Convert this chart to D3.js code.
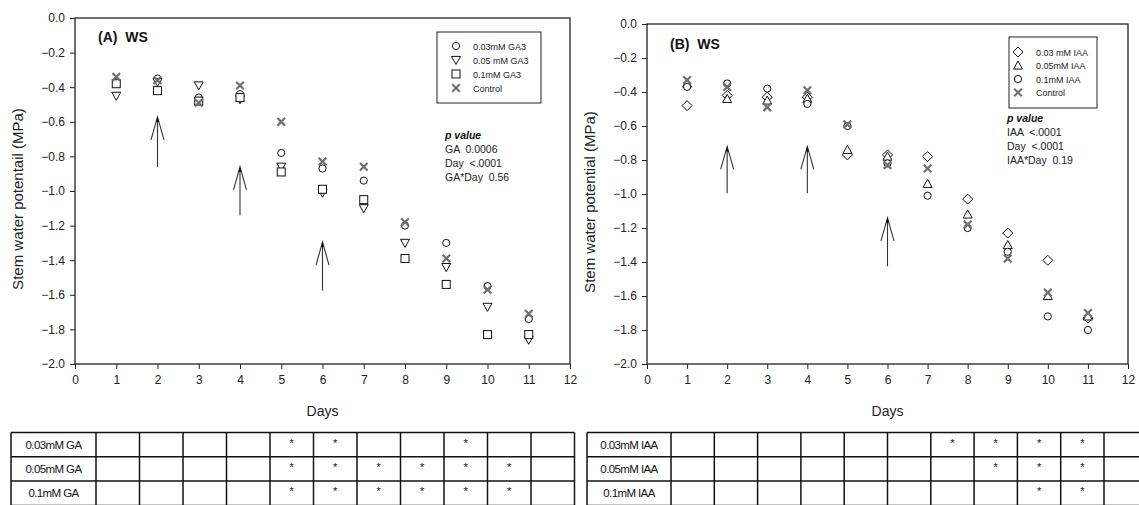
<!DOCTYPE html>
<html lang="en">
<head>
<meta charset="UTF-8">
<title>Stem water potential</title>
<script src="https://d3js.org/d3.v7.min.js"></script>
<style>
  body { margin: 0; padding: 0; background: #fff; font-family: "Liberation Sans", Arial, sans-serif; }
  svg { display: block; }
  .tick text { fill: #222; font-size: 12px; }
  .axis path, .axis line { stroke: #222; }
</style>
</head>
<body>
<svg id="chart" width="1139" height="505"></svg>
<script>
// ---- data ----
const days = [1, 2, 3, 4, 5, 6, 7, 8, 9, 10, 11];

// panel A (GA3)
const ga003 = [-0.37, -0.35, -0.46, -0.44, -0.78, -0.87, -0.94, -1.20, -1.30, -1.55, -1.74];
const ga005 = [-0.45, -0.37, -0.39, -0.47, -0.86, -1.01, -1.10, -1.30, -1.44, -1.67, -1.86];
const ga01  = [-0.38, -0.42, -0.48, -0.46, -0.89, -0.99, -1.05, -1.39, -1.54, -1.83, -1.83];
const gaCtrl = [-0.34, -0.36, -0.49, -0.39, -0.60, -0.83, -0.86, -1.18, -1.39, -1.57, -1.71];

// panel B (IAA)
const iaa003 = [-0.48, -0.42, -0.43, -0.43, -0.77, -0.77, -0.78, -1.03, -1.23, -1.39, -1.73];
const iaa005 = [-0.35, -0.44, -0.45, -0.44, -0.74, -0.78, -0.94, -1.12, -1.30, -1.60, -1.72];
const iaa01  = [-0.37, -0.35, -0.38, -0.47, -0.60, -0.82, -1.01, -1.20, -1.34, -1.72, -1.80];
const iaaCtrl = [-0.33, -0.37, -0.49, -0.39, -0.59, -0.83, -0.85, -1.18, -1.38, -1.58, -1.70];

const xTicks = [0, 1, 2, 3, 4, 5, 6, 7, 8, 9, 10, 11, 12];
const yTicks = [0, -0.2, -0.4, -0.6, -0.8, -1.0, -1.2, -1.4, -1.6, -1.8, -2.0];

const gaLegend = ["0.03mM GA3", "0.05 mM GA3", "0.1mM GA3", "Control"];
const iaaLegend = ["0.03 mM IAA", "0.05mM IAA", "0.1mM IAA", "Control"];
const gaPvalue = [["GA", "0.0006"], ["Day", "<.0001"], ["GA*Day", "0.56"]];
const iaaPvalue = [["IAA", "<.0001"], ["Day", "<.0001"], ["IAA*Day", "0.19"]];

// arrows: day, tip value, tail value
const gaArrows = [[2, -0.572, -0.86], [4, -0.86, -1.14], [6, -1.295, -1.575]];
const iaaArrows = [[2, -0.72, -0.995], [4, -0.72, -0.995], [6, -1.14, -1.425]];

// significance tables
const gaRows = ["0.03mM GA", "0.05mM GA", "0.1mM GA"];
const gaStars = [[5, 6, 9], [5, 6, 7, 8, 9, 10], [5, 6, 7, 8, 9, 10]];
const iaaRows = ["0.03mM IAA", "0.05mM IAA", "0.1mM IAA"];
const iaaStars = [[7, 8, 9, 10], [8, 9, 10], [9, 10]];

const svg = d3.select("#chart");

// ---- symbol painters ----
function circ(g, x, y) {
  g.append("circle").attr("cx", x).attr("cy", y).attr("r", 3.6)
    .attr("fill", "#fff").attr("stroke", "#111").attr("stroke-width", 1);
}
function triDown(g, x, y) {
  const s = 4.5;
  g.append("path").attr("d", `M${x - s},${y - s * 0.8}L${x + s},${y - s * 0.8}L${x},${y + s}Z`)
    .attr("fill", "#fff").attr("stroke", "#111").attr("stroke-width", 1);
}
function triUp(g, x, y) {
  const s = 4.5;
  g.append("path").attr("d", `M${x - s},${y + s * 0.8}L${x + s},${y + s * 0.8}L${x},${y - s}Z`)
    .attr("fill", "#fff").attr("stroke", "#111").attr("stroke-width", 1);
}
function square(g, x, y) {
  g.append("rect").attr("x", x - 4).attr("y", y - 4).attr("width", 8).attr("height", 8)
    .attr("fill", "#fff").attr("stroke", "#111").attr("stroke-width", 1);
}
function diamond(g, x, y) {
  const s = 5;
  g.append("path").attr("d", `M${x},${y - s}L${x + s},${y}L${x},${y + s}L${x - s},${y}Z`)
    .attr("fill", "#fff").attr("stroke", "#111").attr("stroke-width", 1);
}
function cross(g, x, y) {
  const s = 3.8;
  g.append("path").attr("d", `M${x - s},${y - s}L${x + s},${y + s}M${x - s},${y + s}L${x + s},${y - s}`)
    .attr("stroke", "#707070").attr("stroke-width", 2.2).attr("fill", "none");
}

// ---- panel ----
function panel(opt) {
  const x = d3.scaleLinear().domain([0, 12]).range(opt.xr);
  const y = d3.scaleLinear().domain([-2, 0]).range(opt.yr);
  const g = svg.append("g");

  // frame
  g.append("rect").attr("x", opt.xr[0]).attr("y", opt.yr[1])
    .attr("width", opt.xr[1] - opt.xr[0]).attr("height", opt.yr[0] - opt.yr[1])
    .attr("fill", "none").attr("stroke", "#222").attr("stroke-width", 1.3);

  g.append("g").attr("class", "axis")
    .attr("transform", `translate(0,${opt.yr[0]})`)
    .call(d3.axisBottom(x).tickValues(xTicks).tickSize(5).tickPadding(6).tickFormat(d3.format("d")))
    .call(s => s.select(".domain").remove());

  g.append("g").attr("class", "axis")
    .attr("transform", `translate(${opt.xr[0]},0)`)
    .call(d3.axisLeft(y).tickValues(yTicks).tickSize(5).tickPadding(5).tickFormat(d3.format(".1f")))
    .call(s => s.select(".domain").remove());

  // axis titles
  g.append("text").attr("x", (opt.xr[0] + opt.xr[1]) / 2).attr("y", 416)
    .attr("text-anchor", "middle").attr("font-size", 14).attr("fill", "#222").text("Days");
  g.append("text").attr("transform", `translate(${opt.xr[0] - 52},${(opt.yr[0] + opt.yr[1]) / 2 + 8}) rotate(-90)`)
    .attr("text-anchor", "middle").attr("font-size", 15).attr("fill", "#222").text(opt.ytitle);

  g.append("text").attr("x", opt.title[0]).attr("y", opt.title[1])
    .attr("font-size", 14).attr("font-weight", "bold").attr("fill", "#111")
    .attr("xml:space", "preserve").text(opt.titleText);

  // arrows
  opt.arrows.forEach(a => {
    const ax = x(a[0]), ty = y(a[1]), by = y(a[2]);
    g.append("path").attr("d", `M${ax},${by}L${ax},${ty}M${ax - 6.5},${ty + 23}L${ax},${ty}L${ax + 6.5},${ty + 23}`)
      .attr("stroke", "#333").attr("stroke-width", 1.1).attr("fill", "none");
    g.append("path").attr("d", `M${ax - 1.5},${ty + 5}L${ax},${ty}L${ax + 1.5},${ty + 5}Z`).attr("fill", "#111");
  });

  // points
  opt.series.forEach(s => {
    days.forEach((d, i) => s.sym(g, x(d), y(s.values[i])));
  });

  // legend
  const L = opt.legend;
  g.append("rect").attr("x", L.x).attr("y", L.y).attr("width", L.w).attr("height", L.h)
    .attr("fill", "#fff").attr("stroke", "#222").attr("stroke-width", 1);
  opt.series.forEach((s, i) => {
    const ry = L.y + L.first + i * L.step;
    s.sym(g, L.x + L.symDx, ry);
    g.append("text").attr("x", L.x + L.textDx).attr("y", ry + 3.5)
      .attr("font-size", 9).attr("fill", "#222").text(opt.legendText[i]);
  });

  // p values
  const P = opt.pval;
  g.append("text").attr("x", P.x).attr("y", P.y).attr("font-size", 10.5)
    .attr("font-weight", "bold").attr("font-style", "italic").attr("fill", "#111").text("p value");
  opt.pvalues.forEach((p, i) => {
    g.append("text").attr("x", P.x).attr("y", P.y + 14 * (i + 1)).attr("font-size", 10.5)
      .attr("fill", "#222").attr("xml:space", "preserve").text(p[0] + "  " + p[1]);
  });
}

panel({
  xr: [75, 570], yr: [364, 18],
  ytitle: "Stem water potentail (MPa)",
  title: [98, 42], titleText: "(A)  WS",
  arrows: gaArrows,
  series: [
    { values: ga003, sym: circ },
    { values: ga005, sym: triDown },
    { values: ga01, sym: square },
    { values: gaCtrl, sym: cross }
  ],
  legend: { x: 437, y: 32, w: 104, h: 71, first: 14, step: 14, symDx: 19, textDx: 36 },
  legendText: gaLegend,
  pval: { x: 445, y: 139 },
  pvalues: gaPvalue
});

panel({
  xr: [647, 1128], yr: [364, 24],
  ytitle: "Stem water potential (MPa)",
  title: [670, 49], titleText: "(B)  WS",
  arrows: iaaArrows,
  series: [
    { values: iaa003, sym: diamond },
    { values: iaa005, sym: triUp },
    { values: iaa01, sym: circ },
    { values: iaaCtrl, sym: cross }
  ],
  legend: { x: 1009, y: 37, w: 88, h: 71, first: 15, step: 13.5, symDx: 9, textDx: 27 },
  legendText: iaaLegend,
  pval: { x: 1007, y: 122 },
  pvalues: iaaPvalue
});

// ---- tables ----
function table(opt) {
  const g = svg.append("g");
  const col = d3.scaleLinear().domain([0, 1]).range([opt.x1, opt.x1 + opt.cw]);
  const row = d3.scaleLinear().domain([0, 1]).range([opt.y0, opt.y0 + opt.rh]);
  const right = col(11);
  // horizontal lines
  d3.range(0, 4).forEach(r => {
    g.append("line").attr("x1", opt.x0).attr("x2", right).attr("y1", row(r)).attr("y2", row(r))
      .attr("stroke", "#111").attr("stroke-width", 1.5);
  });
  // vertical lines
  [opt.x0].concat(d3.range(0, 12).map(c => col(c))).forEach(vx => {
    g.append("line").attr("x1", vx).attr("x2", vx).attr("y1", row(0)).attr("y2", row(3))
      .attr("stroke", "#111").attr("stroke-width", 1.5);
  });
  opt.rows.forEach((label, r) => {
    g.append("text").attr("x", (opt.x0 + opt.x1) / 2).attr("y", row(r) + 16)
      .attr("text-anchor", "middle").attr("font-size", 11.5).attr("letter-spacing", -0.6)
      .attr("fill", "#111").text(label);
    opt.stars[r].forEach(c => {
      g.append("text").attr("x", col(c - 0.5)).attr("y", row(r) + 14)
        .attr("text-anchor", "middle").attr("font-size", 11).attr("fill", "#111").text("*");
    });
  });
}

table({ x0: 11, x1: 96, cw: 43.5, y0: 432.5, rh: 24.3, rows: gaRows, stars: gaStars });
table({ x0: 587, x1: 671, cw: 43.3, y0: 432.5, rh: 24.3, rows: iaaRows, stars: iaaStars });
</script>
</body>
</html>
